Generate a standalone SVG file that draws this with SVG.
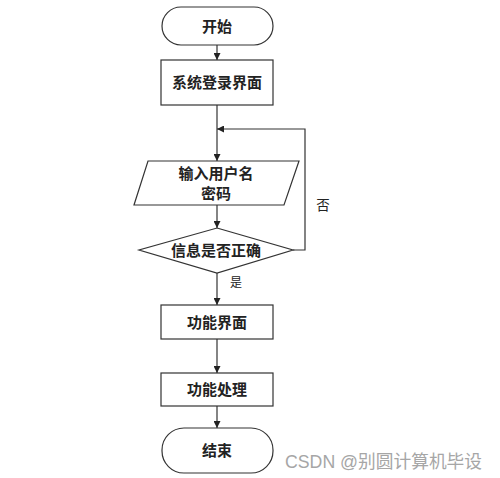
<svg xmlns="http://www.w3.org/2000/svg" width="500" height="478" viewBox="0 0 500 478">
<defs>
<marker id="arr" viewBox="0 0 10 10" refX="10" refY="5" markerWidth="7" markerHeight="7" orient="auto" markerUnits="userSpaceOnUse">
<path d="M0,0 L10,5 L0,10 z" fill="#222"/>
</marker>
</defs>
<style>
.shape{fill:#fff;stroke:#333;stroke-width:1.2}
.t{font-family:"Liberation Sans","Noto Sans CJK SC",sans-serif;font-size:15px;font-weight:bold;fill:#222;text-anchor:middle;dominant-baseline:central}
.lbl{font-family:"Liberation Sans","Noto Sans CJK SC",sans-serif;font-size:12px;fill:#222;text-anchor:middle;dominant-baseline:central}
.c{fill:none;stroke:#333;stroke-width:1.2}
</style>
<rect width="500" height="478" fill="#fff"/>
<g id="connectors">
<line class="c" x1="217" y1="45" x2="217" y2="60" marker-end="url(#arr)"/>
<line class="c" x1="217" y1="105" x2="217" y2="161" marker-end="url(#arr)"/>
<line class="c" x1="217" y1="205" x2="217" y2="228" marker-end="url(#arr)"/>
<polyline class="c" points="293,250 305,250 305,129 217,129" marker-end="url(#arr)"/>
<line class="c" x1="217" y1="273" x2="217" y2="305" marker-end="url(#arr)"/>
<line class="c" x1="217" y1="339" x2="217" y2="373" marker-end="url(#arr)"/>
<line class="c" x1="217" y1="406" x2="217" y2="428" marker-end="url(#arr)"/>
<text class="lbl" x="323" y="205" style="font-size:13.5px">否</text>
<text class="lbl" x="236" y="283">是</text>
</g>
<g id="start">
<rect class="shape" x="162" y="7" width="111" height="38" rx="19" ry="19"/>
<text class="t" x="217" y="26">开始</text>
</g>
<g id="login">
<rect class="shape" x="161" y="60" width="112" height="45"/>
<text class="t" x="217" y="82">系统登录界面</text>
</g>
<g id="input">
<polygon class="shape" points="148,161 299,161 284,205 134,205"/>
<text class="t" x="216" y="173">输入用户名</text>
<text class="t" x="216" y="193">密码</text>
</g>
<g id="check">
<polygon class="shape" points="217,228 293,250 217,273 139,250"/>
<text class="t" x="216" y="250">信息是否正确</text>
</g>
<g id="main">
<rect class="shape" x="161" y="305" width="112" height="34"/>
<text class="t" x="217" y="322">功能界面</text>
</g>
<g id="process">
<rect class="shape" x="161" y="373" width="112" height="33"/>
<text class="t" x="217" y="389">功能处理</text>
</g>
<g id="end">
<rect class="shape" x="162" y="428" width="111" height="45" rx="22" ry="22"/>
<text class="t" x="217" y="450">结束</text>
</g>
<text x="285" y="468" font-family="'Liberation Sans','Noto Sans CJK SC',sans-serif" font-size="18" fill="#a6a6a6" textLength="197" lengthAdjust="spacingAndGlyphs">CSDN @别圆计算机毕设</text>
</svg>
